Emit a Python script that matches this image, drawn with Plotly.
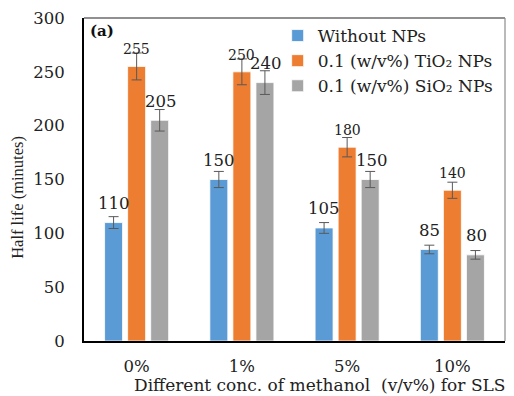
import plotly.graph_objects as go

categories = ["0%", "1%", "5%", "10%"]
series_names = ["Without NPs", "0.1 (w/v%) TiO₂ NPs", "0.1 (w/v%) SiO₂ NPs"]
without_nps = [110, 150, 105, 85]
tio2_nps = [255, 250, 180, 140]
sio2_nps = [205, 240, 150, 80]
err_without = [5.5, 7.5, 5, 4]
err_tio2 = [12.5, 12, 9, 7.5]
err_sio2 = [10, 11, 7.5, 4]
y_ticks = [0, 50, 100, 150, 200, 250, 300]

colors = ["#5B9BD5", "#ED7D31", "#A5A5A5"]
values = [without_nps, tio2_nps, sio2_nps]
errors = [err_without, err_tio2, err_sio2]
label_sizes = [16.5, 14, 16.5]
label_shift = [19, 17, 19]
slot_px = 23.05
HF = "DejaVu Serif"
VF = "Liberation Serif"
TXT = "#222222"

fig = go.Figure()
for i in range(3):
    fig.add_trace(go.Bar(
        x=categories, y=values[i], name=series_names[i],
        marker=dict(color=colors[i], line=dict(color="white", width=0.8)),
        error_y=dict(type="data", array=errors[i], visible=True,
                     color="#595959", thickness=1, width=5),
    ))

annotations = []
for i in range(3):
    for c, v in zip(categories, values[i]):
        annotations.append(dict(
            x=c, y=v, xref="x", yref="y", text=str(v), showarrow=False,
            xshift=(i - 1) * slot_px + (1.5 if i == 2 else 0),
            yshift=label_shift[i], yanchor="middle",
            font=dict(family=HF, size=label_sizes[i], color=TXT)))

annotations.append(dict(x=0.01, y=0.995, xref="paper", yref="paper", text="<b>(a)</b>",
                        showarrow=False, xanchor="left", yanchor="top",
                        font=dict(family=HF, size=15, color="#111")))
annotations.append(dict(x=0.56, y=-0.137, xref="paper", yref="paper",
                        text="Different conc. of methanol  (v/v%) for SLS", showarrow=False,
                        xanchor="center", yanchor="middle",
                        font=dict(family=HF, size=17, color=TXT)))
annotations.append(dict(x=-0.157, y=0.446, xref="paper", yref="paper",
                        text="Half life (minutes)", showarrow=False, textangle=-90,
                        xanchor="center", yanchor="middle",
                        font=dict(family=VF, size=16.5, color=TXT)))

fig.update_layout(
    width=514, height=396,
    margin=dict(l=84, r=9, t=18, b=55),
    paper_bgcolor="white", plot_bgcolor="white",
    barmode="group", bargap=0.343, bargroupgap=0.22,
    showlegend=True,
    legend=dict(x=0.46, y=1.0, xanchor="left", yanchor="top",
                font=dict(family=HF, size=17, color=TXT),
                bgcolor="rgba(0,0,0,0)", itemwidth=30, tracegroupgap=0),
    annotations=annotations,
    shapes=[
        dict(type="line", xref="paper", yref="paper", x0=0, x1=1, y0=1, y1=1,
             line=dict(color="#222", width=1.2)),
        dict(type="line", xref="paper", yref="paper", x0=1, x1=1, y0=0, y1=1,
             line=dict(color="#8c8c8c", width=1.2)),
    ],
)
fig.update_xaxes(showline=True, linecolor="black", linewidth=2, ticks="",
                 showgrid=False, tickfont=dict(family=HF, size=16.5, color=TXT),
                 ticklabelstandoff=9, range=[-0.5, 3.5])
fig.update_yaxes(showline=True, linecolor="black", linewidth=2, ticks="",
                 showgrid=False, zeroline=False, range=[0, 300], tickvals=y_ticks,
                 tickfont=dict(family=HF, size=16.5, color=TXT), ticklabelstandoff=14)

fig.write_html("out.html")
